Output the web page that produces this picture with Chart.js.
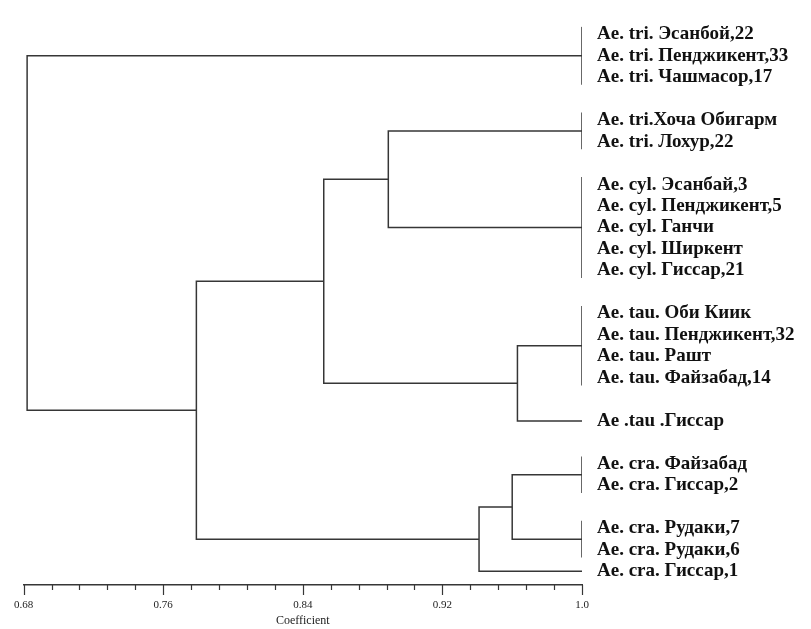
<!DOCTYPE html>
<html>
<head>
<meta charset="utf-8">
<script src="https://cdn.jsdelivr.net/npm/chart.js@4.4.1/dist/chart.umd.min.js"></script>
<style>
  html, body { margin: 0; padding: 0; background: #fff; }
  #wrap { width: 811px; height: 629px; }
</style>
</head>
<body>
<div id="wrap"><canvas id="chart-dendro" width="811" height="629"></canvas></div>
<script>
// rows of the tree, top to bottom ('' = blank row between groups)
var rowLabels = [
  'Ae. tri. Эсанбой,22',
  'Ae. tri. Пенджикент,33',
  'Ae. tri. Чашмасор,17',
  '',
  'Ae. tri.Хоча Обигарм',
  'Ae. tri. Лохур,22',
  '',
  'Ae. cyl. Эсанбай,3',
  'Ae. cyl. Пенджикент,5',
  'Ae. cyl. Ганчи',
  'Ae. cyl. Ширкент',
  'Ae. cyl. Гиссар,21',
  '',
  'Ae. tau. Оби Киик',
  'Ae. tau. Пенджикент,32',
  'Ae. tau. Рашт',
  'Ae. tau. Файзабад,14',
  '',
  'Ae .tau .Гиссар',
  '',
  'Ae. cra. Файзабад',
  'Ae. cra. Гиссар,2',
  '',
  'Ae. cra. Рудаки,7',
  'Ae. cra. Рудаки,6',
  'Ae. cra. Гиссар,1'
];

// groups of identical accessions (coefficient 1.0): first and last row
var groupFirst = [0, 4, 7, 13, 18, 20, 23, 25];
var groupLast  = [2, 5, 11, 16, 18, 21, 24, 25];

// merges: node ids 0..7 are groups, 8.. are the merges below in order
var mergeA    = [1, 3, 8, 5, 11, 10, 0];
var mergeB    = [2, 4, 9, 6, 7, 12, 13];
var mergeCoef = [0.889, 0.963, 0.852, 0.960, 0.941, 0.779, 0.682];

var xTickLabels = ['0.68', '0.76', '0.84', '0.92', '1.0'];
var minorPerMajor = 5;

var xMin = parseFloat(xTickLabels[0]);
var xMax = parseFloat(xTickLabels[xTickLabels.length - 1]);
var lineColor = '#363636';

// build the paths
var nodeX = [], nodeY = [], paths = [];
for (var g = 0; g < groupFirst.length; g++) {
  nodeX.push(xMax);
  nodeY.push((groupFirst[g] + groupLast[g]) / 2);
  if (groupLast[g] > groupFirst[g]) {
    paths.push([{x: xMax, y: groupFirst[g] - 0.35}, {x: xMax, y: groupLast[g] + 0.35}]);
  }
}
for (var k = 0; k < mergeCoef.length; k++) {
  var a = mergeA[k], b = mergeB[k], c = mergeCoef[k];
  paths.push([
    {x: nodeX[a], y: nodeY[a]},
    {x: c, y: nodeY[a]},
    {x: c, y: nodeY[b]},
    {x: nodeX[b], y: nodeY[b]}
  ]);
  nodeX.push(c);
  nodeY.push((nodeY[a] + nodeY[b]) / 2);
}

var datasets = paths.map(function (p) {
  return {
    data: p,
    showLine: true,
    borderColor: lineColor,
    borderWidth: 1.5,
    pointRadius: 0,
    fill: false,
    tension: 0
  };
});

// short and long tick marks under the axis line
var tickMarks = {
  id: 'tickMarks',
  afterDraw: function (chart) {
    var scale = chart.scales.x;
    var ctx = chart.ctx;
    ctx.save();
    ctx.strokeStyle = lineColor;
    ctx.lineWidth = 1.2;
    scale.ticks.forEach(function (t, i) {
      var px = Math.round(scale.getPixelForValue(t.value)) + 0.5;
      var len = (i % minorPerMajor === 0) ? 10 : 5;
      ctx.beginPath();
      ctx.moveTo(px, scale.top);
      ctx.lineTo(px, scale.top + len);
      ctx.stroke();
    });
    ctx.restore();
  }
};

var ctx = document.getElementById('chart-dendro').getContext('2d');

new Chart(ctx, {
  type: 'scatter',
  data: { datasets: datasets },
  options: {
    responsive: false,
    animation: false,
    layout: { padding: { left: 18, top: 12, right: 0, bottom: 0 } },
    plugins: {
      legend: { display: false },
      tooltip: { enabled: false }
    },
    scales: {
      x: {
        type: 'linear',
        position: 'bottom',
        min: xMin,
        max: xMax,
        afterBuildTicks: function (scale) {
          var n = (xTickLabels.length - 1) * minorPerMajor;
          var step = (xMax - xMin) / n;
          var ticks = [];
          for (var i = 0; i <= n; i++) ticks.push({ value: xMin + i * step });
          scale.ticks = ticks;
        },
        afterFit: function (scale) { scale.height = 44; },
        grid: { display: false, drawTicks: false },
        border: { display: true, color: lineColor, width: 1.5 },
        ticks: {
          autoSkip: false,
          maxRotation: 0,
          padding: 14,
          color: '#222',
          font: { family: 'Liberation Serif', size: 11 },
          callback: function (v, i) {
            return (i % minorPerMajor === 0) ? xTickLabels[i / minorPerMajor] : '';
          }
        },
        title: {
          display: true,
          text: 'Coefficient',
          color: '#222',
          padding: { top: 0, bottom: 1 },
          font: { family: 'Liberation Serif', size: 12 }
        }
      },
      y: {
        type: 'linear',
        position: 'right',
        reverse: true,
        min: -0.363,
        max: 25.635,
        afterBuildTicks: function (scale) {
          scale.ticks = rowLabels.map(function (r, i) { return { value: i }; });
        },
        afterFit: function (scale) { scale.width = 229; },
        grid: { display: false, drawTicks: false },
        border: { display: false },
        ticks: {
          autoSkip: false,
          padding: 15,
          crossAlign: 'near',
          color: '#111',
          font: { family: 'Liberation Serif', size: 19, weight: 'bold' },
          callback: function (v) { return rowLabels[v]; }
        }
      }
    }
  },
  plugins: [tickMarks]
});
</script>
</body>
</html>
